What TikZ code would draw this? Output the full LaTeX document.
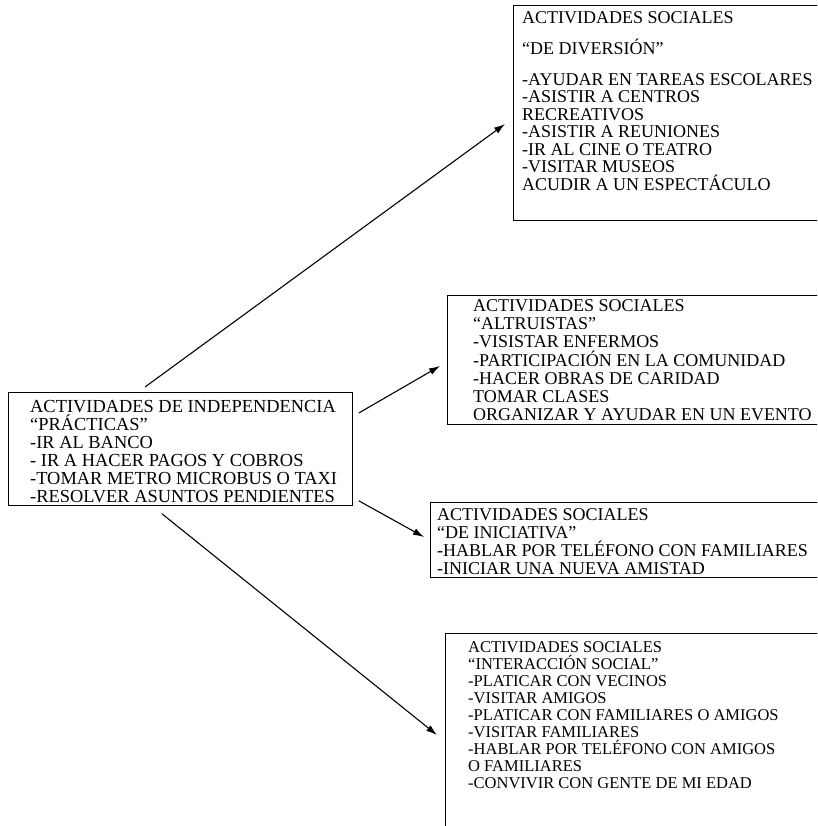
\documentclass[tikz,border=0pt]{standalone}
\usepackage{fontspec}
\setmainfont{Liberation Serif}
\usetikzlibrary{arrows.meta}

\tikzset{
  marco/.style={draw, line width=0.8pt, inner sep=0pt, anchor=north west},
  texto/.style={inner sep=0pt, anchor=north west, align=left},
  flecha/.style={-{Latex[length=11pt,width=7pt]}, line width=1.1pt},
}

\begin{document}
\begin{tikzpicture}[x=1pt,y=-1pt]

\clip (0,0) rectangle (817,826);
\fill[white] (0,0) rectangle (817,826);

\node[marco, minimum width=344pt, minimum height=113pt] (indep) at (8,392) {};
\node[marco, minimum width=330pt, minimum height=215pt] (div) at (513,5) {};
\node[marco, minimum width=390pt, minimum height=129pt] (altr) at (447,295) {};
\node[marco, minimum width=400pt, minimum height=75pt] (inic) at (430,502) {};
\node[marco, minimum width=390pt, minimum height=220pt] (inter) at (445,633) {};

\node[texto, font=\fontsize{18.4}{18}\selectfont] (indeptxt) at (30,400) {ACTIVIDADES DE INDEPENDENCIA\\“PRÁCTICAS”\\-IR AL BANCO\\- IR A HACER PAGOS Y COBROS\\-TOMAR METRO MICROBUS O TAXI\\-RESOLVER ASUNTOS PENDIENTES};
\node[texto, font=\fontsize{18}{17.5}\selectfont] (divtxt) at (522,11) {ACTIVIDADES SOCIALES\\[13.5pt]“DE DIVERSIÓN”\\[13.5pt]-AYUDAR EN TAREAS ESCOLARES\\-ASISTIR A CENTROS\\RECREATIVOS\\-ASISTIR A REUNIONES\\-IR AL CINE O TEATRO\\-VISITAR MUSEOS\\ACUDIR A UN ESPECTÁCULO};
\node[texto, font=\fontsize{18}{18.3}\selectfont] (altrtxt) at (473,299) {ACTIVIDADES SOCIALES\\“ALTRUISTAS”\\-VISISTAR ENFERMOS\\-PARTICIPACIÓN EN LA COMUNIDAD\\-HACER OBRAS DE CARIDAD\\TOMAR CLASES\\ORGANIZAR Y AYUDAR EN UN EVENTO};
\node[texto, font=\fontsize{18}{18}\selectfont] (inictxt) at (437,508) {ACTIVIDADES SOCIALES\\“DE INICIATIVA”\\-HABLAR POR TELÉFONO CON FAMILIARES\\-INICIAR UNA NUEVA AMISTAD};
\node[texto, font=\fontsize{16.5}{17.1}\selectfont] (intertxt) at (468,641) {ACTIVIDADES SOCIALES\\“INTERACCIÓN SOCIAL”\\-PLATICAR CON VECINOS\\-VISITAR AMIGOS\\-PLATICAR CON FAMILIARES O AMIGOS\\-VISITAR FAMILIARES\\-HABLAR POR TELÉFONO CON AMIGOS\\O FAMILIARES\\-CONVIVIR CON GENTE DE MI EDAD};

\draw[flecha] ([shift={(137,-5)}]indep.north west) -- ([shift={(-8,119)}]div.north west);
\draw[flecha] ([shift={(6,21)}]indep.north east) -- ([shift={(-7,71)}]altr.north west);
\draw[flecha] ([shift={(6,-5)}]indep.south east) -- ([shift={(-6,35)}]inic.north west);
\draw[flecha] ([shift={(154,8)}]indep.south west) -- ([shift={(-8,102)}]inter.north west);
\end{tikzpicture}
\end{document}
